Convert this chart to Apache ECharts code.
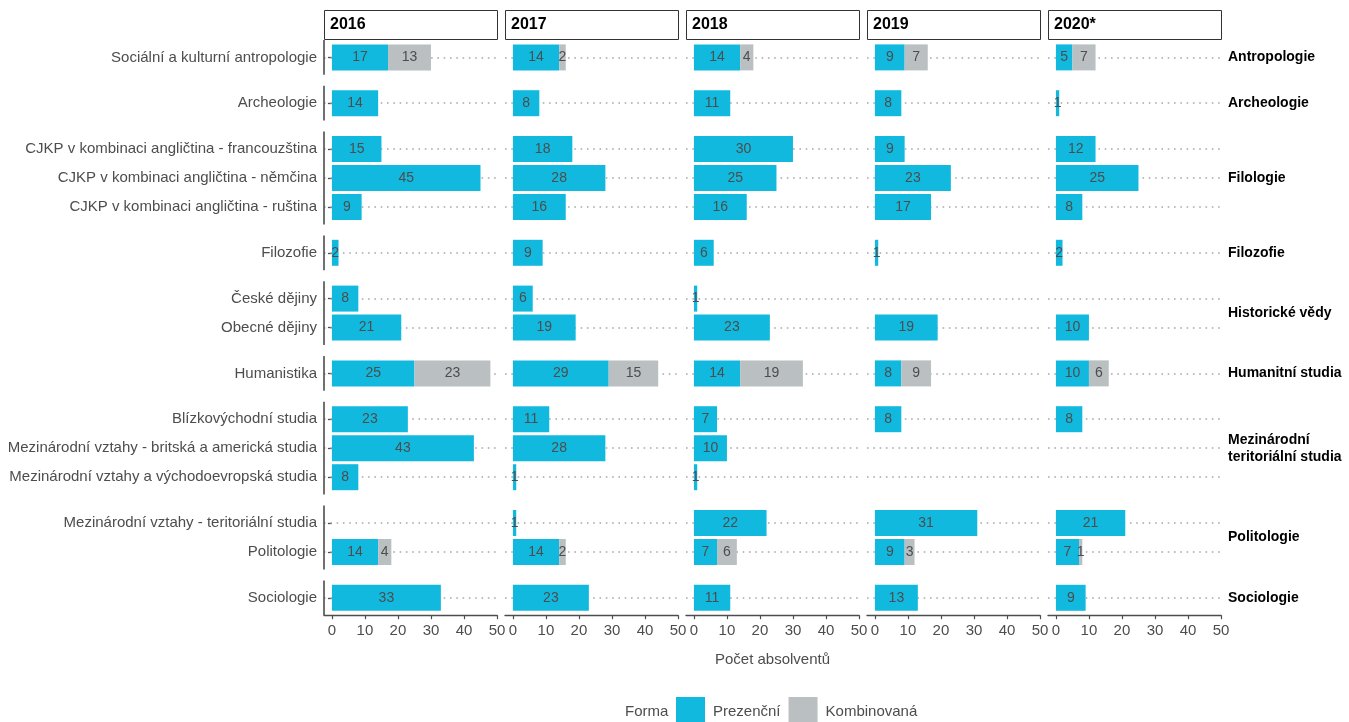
<!DOCTYPE html>
<html><head><meta charset="utf-8">
<script src="https://cdn.jsdelivr.net/npm/echarts@6/dist/echarts.min.js"></script>
<style>html,body{margin:0;padding:0;background:#fff}#c{width:1349px;height:722px}</style>
</head><body><div id="c"></div>
<script>
// ---------- DATA ----------
const years = ['2016', '2017', '2018', '2019', '2020*'];
const programs = [
  'Sociální a kulturní antropologie',
  'Archeologie',
  'CJKP v kombinaci angličtina - francouzština',
  'CJKP v kombinaci angličtina - němčina',
  'CJKP v kombinaci angličtina - ruština',
  'Filozofie',
  'České dějiny',
  'Obecné dějiny',
  'Humanistika',
  'Blízkovýchodní studia',
  'Mezinárodní vztahy - britská a americká studia',
  'Mezinárodní vztahy a východoevropská studia',
  'Mezinárodní vztahy - teritoriální studia',
  'Politologie',
  'Sociologie'
];
const groupNames = ['Antropologie', 'Archeologie', 'Filologie', 'Filozofie', 'Historické vědy',
  'Humanitní studia', 'Mezinárodní\nteritoriální studia', 'Politologie', 'Sociologie'];
const groupSizes = [1, 1, 3, 1, 2, 1, 3, 2, 1];

const pres2016 = [17, 14, 15, 45, 9, 2, 8, 21, 25, 23, 43, 8, null, 14, 33];
const pres2017 = [14, 8, 18, 28, 16, 9, 6, 19, 29, 11, 28, 1, 1, 14, 23];
const pres2018 = [14, 11, 30, 25, 16, 6, 1, 23, 14, 7, 10, 1, 22, 7, 11];
const pres2019 = [9, 8, 9, 23, 17, 1, null, 19, 8, 8, null, null, 31, 9, 13];
const pres2020 = [5, 1, 12, 25, 8, 2, null, 10, 10, 8, null, null, 21, 7, 9];

const komb2016 = [13, null, null, null, null, null, null, null, 23, null, null, null, null, 4, null];
const komb2017 = [2, null, null, null, null, null, null, null, 15, null, null, null, null, 2, null];
const komb2018 = [4, null, null, null, null, null, null, null, 19, null, null, null, null, 6, null];
const komb2019 = [7, null, null, null, null, null, null, null, 9, null, null, null, null, 3, null];
const komb2020 = [7, null, null, null, null, null, null, null, 6, null, null, null, null, 1, null];

const xTicks = [0, 10, 20, 30, 40, 50];
const seriesNames = ['Prezenční', 'Kombinovaná'];

// ---------- LAYOUT / STYLE ----------
const prezencni = [pres2016, pres2017, pres2018, pres2019, pres2020];
const kombinovana = [komb2016, komb2017, komb2018, komb2019, komb2020];
const FONT = '"Liberation Sans", Arial, Helvetica, sans-serif';
const TEXT = '#4d4d4d';
const C_P = '#12B9DE', C_K = '#BABFC2';
const colLeft0 = 324, colPitch = 181, colWidth = 173;
const plotTop = 40, unit = 29, padUnits = 0.1, groupGap = 11;
const xMin = -2.4, xMax = 50;

const grids = [], xAxes = [], yAxes = [], series = [], graphics = [];
let curTop = plotTop, rowStart = 0;
const barLabel = { show: true, position: 'inside', color: TEXT, fontSize: 14, fontFamily: FONT, textBorderWidth: 0,
  formatter: p => (p.value == null ? '' : p.value) };
const pad = padUnits * unit;

groupSizes.forEach((n, g) => {
  const h = n * unit;                 // band area (exact row pitch)
  const panelH = h + 2 * pad;         // panel incl. expansion
  const rows = programs.slice(rowStart, rowStart + n);
  const isLast = g === groupSizes.length - 1;
  // left axis segment for this group panel
  graphics.push({ type: 'line', silent: true, z: 10,
    shape: { x1: colLeft0, y1: curTop, x2: colLeft0, y2: curTop + panelH },
    style: { stroke: TEXT, lineWidth: 1.6 } });
  years.forEach((yr, c) => {
    const gi = grids.length;
    grids.push({ left: colLeft0 + c * colPitch, top: curTop + pad, width: colWidth, height: h,
      containLabel: false, outerBoundsMode: 'none' });
    xAxes.push({
      gridIndex: gi, type: 'value', min: xMin, max: xMax, show: isLast, offset: pad,
      axisLine: { show: true, lineStyle: { color: TEXT, width: 1.4 } },
      axisTick: { show: true, customValues: xTicks, length: 4, lineStyle: { color: TEXT, width: 1.2 } },
      axisLabel: { show: true, customValues: xTicks, color: TEXT, fontSize: 15, fontFamily: FONT, margin: 8 },
      splitLine: { show: false },
      name: (isLast && c === 2) ? 'Počet absolventů' : '',
      nameLocation: 'middle', nameGap: 37,
      nameTextStyle: { color: TEXT, fontSize: 15, fontFamily: FONT }
    });
    const yi = yAxes.length;
    yAxes.push({
      gridIndex: gi, type: 'category', inverse: true, data: rows, show: c === 0,
      axisLine: { show: false },
      axisTick: { show: true, alignWithLabel: true, length: 4, lineStyle: { color: TEXT, width: 1.3 } },
      axisLabel: { color: TEXT, fontSize: 15, fontFamily: FONT, margin: 7 },
      splitLine: { show: false }
    });
    if (c === years.length - 1) {
      yAxes.push({
        gridIndex: gi, type: 'category', position: 'right', data: [groupNames[g]],
        axisLine: { show: false }, axisTick: { show: false }, splitLine: { show: false },
        axisLabel: { color: '#000', fontWeight: 'bold', fontSize: 14, fontFamily: FONT, margin: 7,
          align: 'left', lineHeight: 17 }
      });
    }
    series.push({
      type: 'bar', name: seriesNames[0], xAxisIndex: gi, yAxisIndex: yi, stack: 's' + gi,
      data: prezencni[c].slice(rowStart, rowStart + n), barWidth: 26, z: 3,
      itemStyle: { color: C_P }, label: barLabel,
      markLine: {
        silent: true, symbol: ['none', 'none'], z: 1, animation: false,
        label: { show: false },
        lineStyle: { color: '#a8a8a8', type: [1.6, 4.7], width: 1.5 },
        emphasis: { disabled: true },
        data: rows.map(r => ({ yAxis: r }))
      }
    });
    series.push({
      type: 'bar', name: seriesNames[1], xAxisIndex: gi, yAxisIndex: yi, stack: 's' + gi,
      data: kombinovana[c].slice(rowStart, rowStart + n), barWidth: 26, z: 3,
      itemStyle: { color: C_K }, label: barLabel
    });
  });
  curTop += panelH + groupGap;
  rowStart += n;
});

years.forEach((yr, c) => {
  const x = colLeft0 + c * colPitch;
  graphics.push({ type: 'rect', left: x, top: 10, shape: { x: 0, y: 0, width: colWidth, height: 29 },
    style: { fill: '#fff', stroke: '#333', lineWidth: 1 }, silent: true });
  graphics.push({ type: 'text', x: x + 6, y: 25, style: { text: yr, fill: '#000', font: 'bold 16px ' + FONT,
    verticalAlign: 'middle', textAlign: 'left' }, silent: true });
});
graphics.push({ type: 'text', x: 625, y: 712, style: { text: 'Forma', fill: TEXT, font: '15px ' + FONT,
  verticalAlign: 'middle', textAlign: 'left' }, silent: true });

const chart = echarts.init(document.getElementById('c'), null, { renderer: 'canvas' });
chart.setOption({
  backgroundColor: '#fff',
  animation: false,
  textStyle: { fontFamily: FONT },
  color: [C_P, C_K],
  grid: grids, xAxis: xAxes, yAxis: yAxes, series: series,
  legend: {
    data: seriesNames, left: 676, top: 697, itemWidth: 29, itemHeight: 29, itemGap: 8, icon: 'rect',
    padding: 0, selectedMode: false,
    textStyle: { color: TEXT, fontSize: 15, fontFamily: FONT, padding: [0, 0, 0, 3] }
  },
  graphic: graphics
});
</script></body></html>
